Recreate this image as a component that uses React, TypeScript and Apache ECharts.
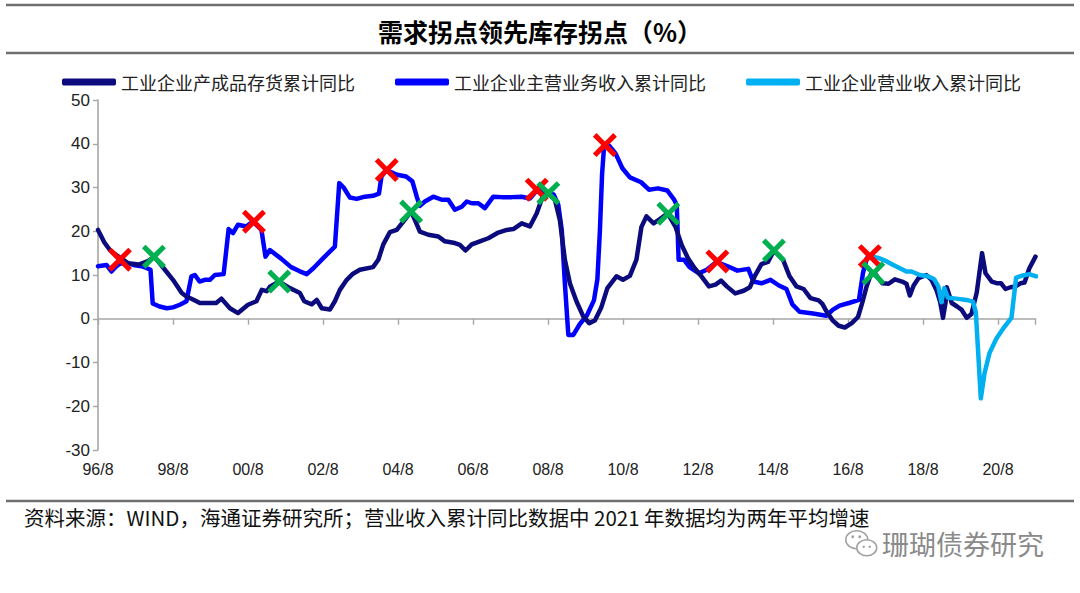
import React, { useEffect, useRef } from "react";
import * as echarts from "echarts";

// x = months since 1996-08
const xTickLabels = ["96/8", "98/8", "00/8", "02/8", "04/8", "06/8", "08/8", "10/8", "12/8", "14/8", "16/8", "18/8", "20/8"];

const inventoryYoY: [number, number][] = [
  [0, 20.3], [2, 17.5], [3.8, 15.7], [5, 15], [7, 14], [9.6, 12.7], [13, 12.4], [16, 13.2], [18, 14.2], [19.7, 12.7],
  [21.4, 11.2], [24, 8.9], [26.8, 5.9], [28.3, 5.1], [30.4, 4.4], [32.6, 3.6], [35.7, 3.6], [37.8, 3.6], [39.5, 4.6],
  [42.2, 2.4], [44.8, 1.3], [48, 3.2], [50.7, 4], [52.4, 6.6], [54, 6.3], [55, 7.3], [58, 8.5], [61.4, 7], [63.5, 6.3],
  [64.6, 5.9], [66, 4], [68.4, 3.3], [70, 4.3], [71.6, 2.4], [74.2, 2.1], [75.8, 4], [77.4, 6.6], [79.6, 8.9],
  [81.6, 10.3], [83.8, 11.2], [88, 11.8], [89.7, 13.5], [91.3, 17], [93.4, 19.8], [95.6, 20.3], [97.7, 22.2],
  [100.2, 24.5], [101.4, 22.6], [103, 19.9], [105.7, 19.2], [108.9, 18.8], [111, 17.7], [114.2, 17.3], [115.8, 16.9],
  [117.6, 15.6], [119.6, 17], [122.2, 17.7], [124.9, 18.4], [128.1, 19.7], [130.8, 20.3], [132.9, 20.5], [135.6, 21.8],
  [138.2, 21.1], [140.4, 24.1], [142.3, 28], [144, 28.7], [146.2, 27.2], [147.8, 22.5], [149.4, 13.5], [151, 8.1],
  [153.1, 4], [155.3, 0.5], [157.2, -1], [159, -0.4], [161, 2.5], [163, 7], [165.9, 9.7], [168, 8.9], [170.2, 9.8],
  [172.3, 13.5], [173.9, 21], [175.5, 23.4], [177.8, 21.8], [179.8, 22.8], [182.3, 24.1], [184.8, 21], [186.8, 16.8],
  [188.9, 13.7], [191, 11.5], [193.1, 9.7], [195.5, 7.4], [197.6, 7.8], [199.4, 8.7], [201.2, 7.4], [203.9, 5.8],
  [206.6, 6.4], [208.6, 7.2], [210.2, 9.8], [212.3, 12.5], [214.4, 13], [216.3, 15.6], [219.2, 13.5], [221.3, 9.7],
  [223.5, 7.4], [225.8, 6.8], [228, 4.7], [230.6, 4.2], [231.8, 3.4], [233.1, 1.7], [235, -0.3], [237, -1.6],
  [239, -2], [241.2, -1], [243.2, 0.4], [244.5, 3.5], [246, 7.5], [247.5, 10.5], [249, 10], [251, 8.1], [253, 8],
  [255, 9], [257.3, 8.5], [258.7, 8], [259.8, 5.3], [261, 7.6], [262.6, 9.3], [265.1, 10], [266.7, 8.9], [268.3, 6.6],
  [269.5, 3.8], [270.4, 0.2], [271.2, 3.6], [271.6, 7.2], [273.2, 3.6], [274.9, 2.8], [276.3, 2.1], [278, 0.2],
  [279.5, 1.1], [281.2, 6], [282.9, 15], [284, 10.4], [286, 8.5], [287.8, 8.1], [289, 8.1], [290.4, 6.8], [292, 7.2],
  [293.6, 7.4], [295.2, 8.1], [296.5, 8.3], [298, 11.5], [300, 14.2],
];

const mainRevenueYoY: [number, number][] = [
  [0, 12], [2.7, 12.3], [4.3, 10.8], [5.9, 12], [7, 12.6], [9.1, 12.7], [11.3, 12.3], [13.9, 12], [15.5, 11.6],
  [16.8, 11.2], [17.5, 3.5], [19.7, 2.8], [22, 2.4], [24, 2.6], [26.2, 3.2], [28.3, 4], [29.9, 9.7], [31, 10],
  [32.5, 8.5], [34.2, 8.9], [35.8, 8.9], [37.4, 10], [40.2, 10.2], [41.8, 20.5], [43.2, 19.6], [44.8, 21.5],
  [47.5, 21.1], [49.6, 22.2], [52.3, 20.3], [53.6, 14.2], [55, 15.7], [58.5, 13.8], [61.8, 11.8], [64.4, 10.9],
  [66.8, 10.2], [69, 11.6], [72, 13.8], [75.8, 16.5], [77.2, 31], [78.6, 30], [80.6, 27.7], [82.8, 27.4],
  [85.4, 27.9], [88, 28.1], [89.9, 28.6], [90.7, 32.5], [92.3, 34], [95.7, 32.9], [98.6, 32.5], [100.6, 31.4],
  [102, 27.9], [103, 25.8], [104.6, 26.8], [107.3, 27.9], [110, 27.2], [112.1, 27.2], [114.2, 24.9], [116.4, 25.6],
  [118, 26.8], [119.6, 26.4], [121.7, 26.4], [123.8, 25.3], [126.5, 27.9], [129.2, 27.8], [132.4, 27.8],
  [135.6, 27.9], [138.2, 27.5], [140.4, 29.3], [144, 28.7], [145.8, 28.4], [147.3, 26], [148.4, 20.3], [149.4, 8.1],
  [150.5, -3.7], [152.1, -3.7], [154.2, -1.2], [156.4, 0.7], [158.7, 4.2], [159.8, 9], [160.6, 20], [161.3, 33],
  [161.9, 39], [163.5, 39.6], [165.6, 37.8], [167.8, 34.4], [170.2, 32.3], [173.8, 31.2], [176.3, 29.5],
  [179.2, 29.8], [182.2, 29.3], [184.3, 27.3], [185.2, 26], [185.8, 13.5], [187.5, 13.5], [189.3, 11.8],
  [192.3, 10.4], [194.8, 11.2], [197.9, 13], [201.5, 12], [204.6, 11], [208.1, 11.4], [209.7, 8.5], [212.3, 8.1],
  [215.2, 8.9], [217.9, 7.6], [220.3, 6.8], [222.2, 3.3], [224.5, 1.6], [228.8, 1.2], [233.1, 0.7], [235.2, 2.1],
  [237.3, 3], [240.3, 3.6], [243.5, 4.3], [244.8, 10.5], [246, 13.8],
];

const revenueYoY: [number, number][] = [
  [247, 14.3], [249.7, 13.9], [252.4, 13.1], [254.5, 12.3], [258.7, 10.8], [260.3, 10.8], [263, 10], [265.6, 9.7],
  [267.5, 9.1], [268.9, 7.4], [269.9, 3.8], [270.8, 7], [272, 4.8], [274.7, 4.6], [277.9, 4.3], [280, 3.9],
  [280.9, 1.5], [281.6, -7], [282.5, -18.2], [283.7, -12.4], [285.3, -7.8], [287.5, -4.5], [290, -1.9],
  [292.3, 0.2], [293.8, 9.4], [296, 9.9], [298, 10.2], [300.2, 9.7],
];

const demandTurns: [number, number][] = [
  [7, 13.5], [49.9, 22.2], [92.4, 34], [140.4, 29.5], [162.2, 39.7], [198.2, 13.1], [247, 14.3],
];
const inventoryTurns: [number, number][] = [
  [17.9, 14.2], [58, 8.5], [100.2, 24.5], [144.1, 28.7], [182.5, 24], [216.3, 15.6], [248.1, 10.4],
];

const seriesNames = ["工业企业产成品存货累计同比", "工业企业主营业务收入累计同比", "工业企业营业收入累计同比"];
const seriesColors = ["#0B0B7E", "#0000FF", "#00B0F0"];

const CROSS = "path://M0,3L3,0L10,7L17,0L20,3L13,10L20,17L17,20L10,13L3,20L0,17L7,10Z";
const FONT = "'Noto Sans CJK SC', 'Noto Sans', sans-serif";
const NUMFONT = "'Liberation Sans', Arial, sans-serif";

export default function App() {
  const ref = useRef<HTMLDivElement>(null);
  useEffect(() => {
    if (!ref.current) return;
    const chart = echarts.init(ref.current, undefined, { renderer: "svg" });
    const lineSeries = (i: number, data: [number, number][], z: number) => ({
      name: seriesNames[i],
      type: "line",
      data,
      showSymbol: false,
      symbol: "none",
      smooth: false,
      z,
      lineStyle: { color: seriesColors[i], width: 4.5, cap: "round", join: "round" },
      itemStyle: { color: seriesColors[i] },
    });
    chart.setOption({
      animation: false,
      backgroundColor: "#ffffff",
      title: {
        text: "需求拐点领先库存拐点（%）",
        left: "center",
        top: 13,
        textStyle: { fontFamily: FONT, fontSize: 25, fontWeight: "bold", color: "#000" },
      },
      legend: {
        data: seriesNames,
        left: 57,
        top: 68,
        icon: "roundRect",
        itemWidth: 54,
        itemHeight: 7,
        itemGap: 40,
        textStyle: { fontFamily: FONT, fontSize: 18, color: "#222" },
      },
      grid: { left: 98, right: 44.5, top: 100, bottom: 143 },
      xAxis: [
        {
          type: "value",
          min: 0,
          max: 300,
          interval: 24,
          axisLine: { onZero: true, lineStyle: { color: "#A6A6A6", width: 1.6 } },
          axisTick: { show: true, length: 6, lineStyle: { color: "#A6A6A6", width: 1.4 } },
          axisLabel: { show: false },
          splitLine: { show: false },
        },
        {
          type: "value",
          min: 0,
          max: 300,
          interval: 24,
          position: "bottom",
          axisLine: { show: false, onZero: false },
          axisTick: { show: false },
          splitLine: { show: false },
          axisLabel: {
            margin: 11,
            fontFamily: NUMFONT,
            fontSize: 16,
            color: "#222",
            formatter: (v: number) => (v % 24 === 0 ? xTickLabels[v / 24] ?? "" : ""),
          },
        },
      ],
      yAxis: {
        type: "value",
        min: -30,
        max: 50,
        interval: 10,
        axisLine: { show: true, lineStyle: { color: "#A6A6A6", width: 1.6 } },
        axisTick: { show: true, length: 5, lineStyle: { color: "#A6A6A6", width: 1.4 } },
        splitLine: { show: false },
        axisLabel: { fontFamily: NUMFONT, fontSize: 17, color: "#222", margin: 8 },
      },
      graphic: [
        { type: "line", shape: { x1: 6, y1: 5, x2: 1074, y2: 5 }, style: { stroke: "#6f6f6f", lineWidth: 2.5 } },
        { type: "line", shape: { x1: 6, y1: 53, x2: 1074, y2: 53 }, style: { stroke: "#6f6f6f", lineWidth: 2.5 } },
        { type: "line", shape: { x1: 6, y1: 501, x2: 1074, y2: 501 }, style: { stroke: "#6f6f6f", lineWidth: 2.5 } },
        {
          type: "text",
          left: 24,
          top: 507,
          style: {
            text: "资料来源：WIND，海通证券研究所；营业收入累计同比数据中 2021 年数据均为两年平均增速",
            font: `20.5px ${FONT}`,
            fill: "#111",
          },
        },
        {
          type: "group",
          left: 845,
          top: 530,
          children: [
            { type: "ellipse", shape: { cx: 12, cy: 11, rx: 11, ry: 9 }, style: { fill: "#fff", stroke: "#a0a0a0", lineWidth: 1.5 } },
            { type: "ellipse", shape: { cx: 22, cy: 19, rx: 10, ry: 8 }, style: { fill: "#fff", stroke: "#a0a0a0", lineWidth: 1.5 } },
            { type: "circle", shape: { cx: 8, cy: 8, r: 1.4 }, style: { fill: "#a0a0a0" } },
            { type: "circle", shape: { cx: 15, cy: 8, r: 1.4 }, style: { fill: "#a0a0a0" } },
            { type: "circle", shape: { cx: 19, cy: 18, r: 1.2 }, style: { fill: "#a0a0a0" } },
            { type: "circle", shape: { cx: 25, cy: 18, r: 1.2 }, style: { fill: "#a0a0a0" } },
          ],
        },
        {
          type: "text",
          left: 882,
          top: 530,
          style: { text: "珊瑚债券研究", font: `27px ${FONT}`, fill: "#8a8a8a" },
        },
      ],
      series: [
        lineSeries(1, mainRevenueYoY, 2),
        lineSeries(0, inventoryYoY, 3),
        lineSeries(2, revenueYoY, 4),
        {
          name: "需求拐点",
          type: "scatter",
          data: demandTurns,
          symbol: CROSS,
          symbolSize: 24,
          z: 5,
          itemStyle: { color: "#FF0000", opacity: 1 },
        },
        {
          name: "库存拐点",
          type: "scatter",
          data: inventoryTurns,
          symbol: CROSS,
          symbolSize: 24,
          z: 6,
          itemStyle: { color: "#00B050", opacity: 1 },
        },
      ],
    });
    return () => chart.dispose();
  }, []);
  return (
    <div style={{ position: "fixed", left: 0, top: 0, width: 1080, height: 593, background: "#fff" }}>
      <div ref={ref} style={{ width: 1080, height: 593 }} />
    </div>
  );
}
